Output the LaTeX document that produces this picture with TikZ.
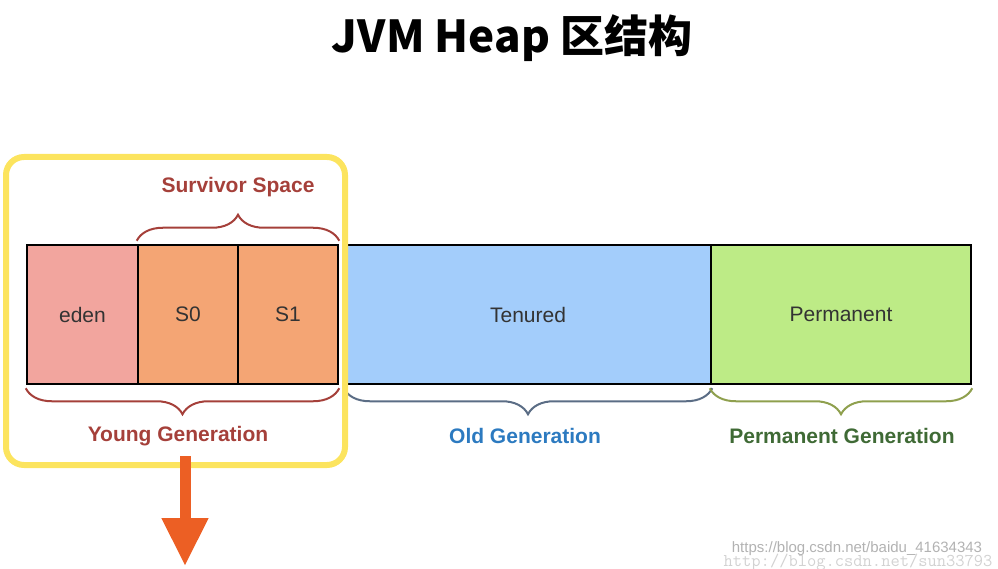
\documentclass[tikz,border=0pt]{standalone}
\usepackage{fontspec}
\setmainfont{Liberation Sans}
\newfontfamily\cjk{Noto Sans CJK SC}
\usepackage{xcolor}
\usetikzlibrary{decorations.pathreplacing,arrows.meta}
\definecolor{edenred}{HTML}{F2A59E}
\definecolor{survorange}{HTML}{F4A574}
\definecolor{tenblue}{HTML}{A3CDFB}
\definecolor{permgreen}{HTML}{BDEB86}
\definecolor{youngtxt}{HTML}{A5403A}
\definecolor{oldtxt}{HTML}{2C7AC0}
\definecolor{oldbrace}{HTML}{5B6D85}
\definecolor{permtxt}{HTML}{3F6A35}
\definecolor{permbrace}{HTML}{8FA04E}
\definecolor{hilite}{HTML}{FCE45E}
\definecolor{arroworange}{HTML}{EC5F24}
\tikzset{
    region/.style = {draw=black, line width=2.5pt, minimum height=139pt, inner sep=0pt, text=black!80, font=\fontsize{21}{24}\selectfont},
    brace-line/.style = {decorate, decoration={brace, amplitude=26pt, raise=3pt}, line width=2pt},
    gen-label/.style = {font=\bfseries\fontsize{21}{25}\selectfont},
}
\begin{document}
\begin{tikzpicture}[x=1pt, y=-1pt]
\useasboundingbox (0,0) rectangle (998,569);
% title
\node (title) at (512,38) {\cjk\fontsize{44}{50}\selectfont\bfseries JVM Heap 区结构};
% heap regions
\node [region, fill=edenred, minimum width=111pt] (eden) at (82.5,314.5) {eden};
\node [region, fill=survorange, minimum width=100pt] (s0) at (188,314.5) {S0};
\node [region, fill=survorange, minimum width=100pt] (s1) at (288,314.5) {S1};
\node [region, fill=tenblue, minimum width=366pt] (tenured) at (528,314.5) {Tenured};
\node [region, fill=permgreen, minimum width=260pt] (perm) at (841,314.5) {Permanent};
% braces
\draw [brace-line, draw=youngtxt] (s0.north west) -- (s1.north east);
\draw [brace-line, draw=youngtxt] (s1.south east) -- (eden.south west);
\draw [brace-line, draw=oldbrace] (tenured.south east) -- (tenured.south west);
\draw [brace-line, draw=permbrace] (perm.south east) -- (perm.south west);
% labels
\node [gen-label, text=youngtxt] (survlabel) at (238,187) {Survivor Space};
\node [gen-label, text=youngtxt] (younglabel) at (178,436) {Young Generation};
\node [gen-label, text=oldtxt] (oldlabel) at (525,436) {Old Generation};
\node [gen-label, text=permtxt] (permlabel) at (842,436) {Permanent Generation};
% highlight
\draw [hilite, line width=6pt, rounded corners=18pt] (6,157) rectangle (345,465);
\coordinate (arrowend) at (185,566);
\draw [arroworange, line width=11pt, -{Triangle[width=44pt,length=48pt]}] (185,456) -- (arrowend);
% watermark
\node [text=gray!60, font=\fontsize{15}{17}\selectfont] (mark) at (857,549) {https://blog.csdn.net/baidu\_41634343};
\node [text=gray!35, font=\ttfamily\fontsize{18}{20}\selectfont, anchor=east] (mark2) at (996,562) {http://blog.csdn.net/sun33793};
\end{tikzpicture}
\end{document}
